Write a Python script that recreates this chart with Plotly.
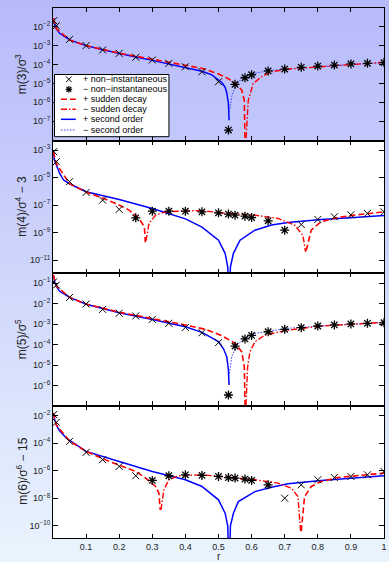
import plotly.graph_objects as go
from plotly.subplots import make_subplots

W, H = 389, 562
ML, MR, MT, MB = 53, 2, 8, 24
PW, PH = W - ML - MR, H - MT - MB


def px(x):
    return (x - ML) / PW


def py(y):
    return (H - MB - y) / PH


# ---------------- data (signed values; sign decides + / - series) ----------------
r_pts = [0.002, 0.01, 0.05, 0.1, 0.15, 0.2, 0.25, 0.3, 0.35, 0.4, 0.45, 0.5,
         0.53, 0.55, 0.58, 0.6, 0.65, 0.7, 0.75, 0.8, 0.85, 0.9, 0.95, 1.0]

ni_m3 = [2.09e-2, 1.12e-2, 2.14e-3, 1.0e-3, 5.89e-4, 3.89e-4, 2.4e-4, 1.74e-4, 1.15e-4,
         7.59e-5, 4.17e-5, 1.23e-5, -3.39e-8, -8.91e-6, -2.0e-5, -2.88e-5, -4.57e-5,
         -5.75e-5, -7.08e-5, -8.32e-5, -9.33e-5, -1.07e-4, -1.15e-4, -1.26e-4]
ni_m4 = [7.59e-4, 1.41e-4, 5.01e-6, 8.32e-7, 2.29e-7, 4.9e-8, -1.2e-8, -3.63e-8, -3.63e-8,
         -3.63e-8, -3.24e-8, -2.75e-8, -2.24e-8, -1.86e-8, -1.58e-8, -1.26e-8, -7.24e-9,
         -1.51e-9, 3.89e-9, 9.12e-9, 1.41e-8, 2.0e-8, 2.51e-8, 3.24e-8]
ni_m5 = [1.15e-1, 7.94e-2, 2.0e-2, 9.55e-3, 5.25e-3, 3.39e-3, 2.51e-3, 1.7e-3, 1.1e-3,
         6.92e-4, 3.8e-4, 1.26e-4, -3.55e-7, -8.51e-5, -1.91e-4, -2.82e-4, -4.27e-4,
         -5.62e-4, -6.76e-4, -8.13e-4, -9.12e-4, -1.02e-3, -1.1e-3, -1.17e-3]
ni_m6 = [1.17e-2, 3.24e-3, 1.35e-4, 2.14e-5, 6.31e-6, 2.04e-6, 4.27e-7, -1.95e-7, -4.27e-7,
         -5.01e-7, -4.47e-7, -3.8e-7, -3.16e-7, -2.88e-7, -2.45e-7, -1.95e-7, -9.33e-8,
         1.0e-8, 9.33e-8, 2.19e-7, 3.16e-7, 3.8e-7, 5.01e-7, 8.71e-7]

so_r3 = [0.001, 0.005, 0.01, 0.02, 0.05, 0.1, 0.15, 0.2, 0.25, 0.3, 0.35, 0.4, 0.45, 0.48,
         0.5, 0.51, 0.52, 0.525, 0.53, 0.532, 0.533, 0.54, 0.55, 0.57, 0.6, 0.65, 0.7,
         0.8, 0.9, 1.0]
so_m3 = [2.82e-2, 1.26e-2, 7.94e-3, 4.47e-3, 2.0e-3, 1.0e-3, 6.03e-4, 3.8e-4, 2.51e-4,
         1.66e-4, 1.07e-4, 6.76e-5, 4.37e-5, 2.82e-5, 1.58e-5, 1.12e-5, 6.31e-6, 3.16e-6,
         8.91e-7, 1.12e-7, -3.16e-7, -2.0e-6, -6.76e-6, -1.86e-5, -3.16e-5, -4.68e-5,
         -5.62e-5, -7.59e-5, -1.0e-4, -1.26e-4]
sd_r3 = [0.001, 0.01, 0.05, 0.1, 0.2, 0.3, 0.35, 0.4, 0.45, 0.5, 0.53, 0.55, 0.57, 0.578,
         0.5805, 0.5815, 0.59, 0.605, 0.63, 0.66, 0.71, 0.81, 0.91, 1.0]
sd_m3 = [2.82e-2, 7.94e-3, 2.0e-3, 1.0e-3, 3.98e-4, 1.91e-4, 1.32e-4, 9.12e-5, 6.31e-5,
         3.16e-5, 1.78e-5, 1.0e-5, 4.47e-6, 1.26e-6, 3.16e-9, -3.16e-9, -1.32e-6, -1.0e-5,
         -2.24e-5, -4.17e-5, -5.75e-5, -7.59e-5, -1.0e-4, -1.32e-4]

so_r4 = [0.001, 0.005, 0.012, 0.02, 0.032, 0.05, 0.1, 0.2, 0.3, 0.35, 0.4, 0.45, 0.5, 0.52,
         0.528, 0.532, 0.536, 0.545, 0.565, 0.61, 0.66, 0.71, 0.81, 0.91, 1.0]
so_m4 = [7.94e-4, 1.58e-4, 6.31e-5, 2.0e-5, 6.61e-6, 3.55e-6, 9.33e-7, 2.57e-7, 5.75e-8,
         2.51e-8, 1.0e-8, 2.51e-9, 2.82e-10, 3.16e-11, 3.16e-12, 1e-14, 3.16e-12, 3.16e-11,
         2.82e-10, 1.51e-9, 3.55e-9, 5.5e-9, 9.12e-9, 1.26e-8, 1.78e-8]
sd_r4 = [0.001, 0.01, 0.05, 0.1, 0.14, 0.19, 0.23, 0.26, 0.276, 0.279, 0.281, 0.29, 0.31,
         0.34, 0.4, 0.45, 0.51, 0.61, 0.68, 0.73, 0.755, 0.763, 0.765, 0.78, 0.81, 0.86,
         0.91, 1.0]
sd_m4 = [7.94e-4, 1.0e-4, 3.55e-6, 8.91e-7, 3.98e-7, 1.32e-7, 4.37e-8, 1.07e-8, 2.63e-9,
         2.0e-10, -2.51e-10, -4.68e-9, -1.86e-8, -3.24e-8, -3.8e-8, -3.89e-8, -2.75e-8,
         -1.86e-8, -1.07e-8, -3.55e-9, -6.31e-10, -3.98e-11, 5.01e-11, 1.51e-9, 6.31e-9,
         1.26e-8, 1.86e-8, 3.24e-8]

so_r5 = [0.001, 0.005, 0.01, 0.02, 0.05, 0.1, 0.2, 0.3, 0.4, 0.45, 0.5, 0.515, 0.525, 0.53,
         0.532, 0.533, 0.54, 0.555, 0.58, 0.61, 0.66, 0.71, 0.81, 0.91, 1.0]
so_m5 = [2.51e-1, 1.12e-1, 7.08e-2, 3.98e-2, 2.0e-2, 9.33e-3, 3.55e-3, 1.7e-3, 7.41e-4,
         3.98e-4, 1.41e-4, 6.31e-5, 2.57e-5, 5.89e-6, 1.1e-6, -3.98e-6, -2.57e-5, -9.55e-5,
         -2.04e-4, -3.55e-4, -4.79e-4, -6.31e-4, -8.13e-4, -1.0e-3, -1.2e-3]
sd_r5 = [0.001, 0.01, 0.05, 0.1, 0.2, 0.3, 0.4, 0.46, 0.51, 0.55, 0.57, 0.578, 0.5808,
         0.5815, 0.588, 0.595, 0.61, 0.64, 0.71, 0.81, 0.91, 1.0]
sd_m5 = [2.51e-1, 7.08e-2, 2.0e-2, 9.55e-3, 3.8e-3, 1.91e-3, 9.12e-4, 5.62e-4, 2.75e-4,
         1.17e-4, 4.57e-5, 8.51e-6, 3.16e-8, -3.16e-8, -8.51e-6, -4.57e-5, -1.38e-4,
         -2.95e-4, -5.13e-4, -8.13e-4, -1.02e-3, -1.23e-3]

so_r6 = [0.001, 0.005, 0.012, 0.02, 0.04, 0.1, 0.2, 0.3, 0.4, 0.45, 0.5, 0.52, 0.528,
         0.532, 0.536, 0.545, 0.56, 0.61, 0.66, 0.71, 0.81, 0.91, 1.0]
so_m6 = [1.58e-2, 5.01e-3, 1.66e-3, 7.94e-4, 2.34e-4, 2.51e-5, 4.68e-6, 8.71e-7, 2.19e-7,
         7.08e-8, 7.59e-9, 8.13e-10, 1e-10, 1e-14, 1e-10, 8.13e-10, 5.62e-9, 3.02e-8,
         6.31e-8, 1.1e-7, 1.95e-7, 2.88e-7, 4.27e-7]
sd_r6 = [0.001, 0.01, 0.05, 0.1, 0.17, 0.21, 0.25, 0.28, 0.31, 0.32, 0.324, 0.326, 0.335,
         0.35, 0.38, 0.45, 0.51, 0.61, 0.68, 0.72, 0.74, 0.748, 0.75, 0.76, 0.78, 0.81,
         0.86, 0.91, 1.0]
sd_m6 = [1.58e-2, 2.0e-3, 1.41e-4, 2.51e-5, 4.68e-6, 2.04e-6, 8.71e-7, 2.88e-7, 7.08e-8,
         2.29e-8, 1.41e-9, -1.41e-9, -4.07e-8, -2.19e-7, -4.27e-7, -5.01e-7, -3.8e-7,
         -2.19e-7, -1.23e-7, -5.37e-8, -1.32e-8, -3.98e-11, 3.98e-11, 1.32e-8, 7.08e-8,
         1.62e-7, 3.16e-7, 4.27e-7, 6.61e-7]

x_ticks = [0.1, 0.2, 0.3, 0.4, 0.5, 0.6, 0.7, 0.8, 0.9, 1.0]
x_ticktext = ["0.1", "0.2", "0.3", "0.4", "0.5", "0.6", "0.7", "0.8", "0.9", "1"]

y_titles = ["m(3)/σ<sup>3</sup>", "m(4)/σ<sup>4</sup> − 3",
            "m(5)/σ<sup>5</sup>", "m(6)/σ<sup>6</sup> − 15"]
y_exps = [[-2, -3, -4, -5, -6, -7], [-3, -5, -7, -9, -11],
          [-1, -2, -3, -4, -5, -6], [-2, -4, -6, -8, -10]]
y_ranges = [[-8.02, -1.01], [-11.93, -2.31], [-6.96, -0.51], [-10.89, -1.27]]

legend_names = ["+ non−instantaneous", "− non−instantaneous", "+ sudden decay",
                "− sudden decay", "+ second order", "− second order"]

panels = [
    (ni_m3, sd_r3, sd_m3, so_r3, so_m3),
    (ni_m4, sd_r4, sd_m4, so_r4, so_m4),
    (ni_m5, sd_r5, sd_m5, so_r5, so_m5),
    (ni_m6, sd_r6, sd_m6, so_r6, so_m6),
]

RED = "#ff0000"
BLUE = "#0000ff"
DASH = "6px,3px"
DASHDOT = "6px,2px,1.5px,2px"
DOT = "1.5px,1.5px"
FONT = "Liberation Sans, Arial, Helvetica, sans-serif"
SPINE = 1.1


def part(vals, positive):
    return [abs(v) if (v > 0) == positive else None for v in vals]


fig = make_subplots(rows=4, cols=1, shared_xaxes=True, vertical_spacing=0)

for i, (ni, sdr, sdv, sor, sov) in enumerate(panels):
    row = i + 1
    fig.add_trace(go.Scatter(x=sor, y=part(sov, True), mode="lines",
                             line=dict(color=BLUE, width=1.5), showlegend=False), row=row, col=1)
    fig.add_trace(go.Scatter(x=sor, y=part(sov, False), mode="lines",
                             line=dict(color="#3a3aff", width=1, dash=DOT), showlegend=False),
                  row=row, col=1)
    fig.add_trace(go.Scatter(x=sdr, y=part(sdv, True), mode="lines",
                             line=dict(color=RED, width=1.6, dash=DASH), showlegend=False),
                  row=row, col=1)
    fig.add_trace(go.Scatter(x=sdr, y=part(sdv, False), mode="lines",
                             line=dict(color=RED, width=1.4, dash=DASHDOT), showlegend=False),
                  row=row, col=1)
    fig.add_trace(go.Scatter(x=r_pts, y=part(ni, True), mode="markers",
                             marker=dict(symbol="x-thin", size=7, color="black",
                                         line=dict(width=1, color="black")),
                             showlegend=False), row=row, col=1)
    fig.add_trace(go.Scatter(x=r_pts, y=part(ni, False), mode="markers",
                             marker=dict(symbol="asterisk", size=7.5, color="black",
                                         line=dict(width=1.3, color="black")),
                             showlegend=False), row=row, col=1)

    fig.update_yaxes(type="log", range=y_ranges[i],
                     tickvals=[10.0 ** e for e in y_exps[i]],
                     ticktext=["10<sup>−%d</sup>" % (-e) for e in y_exps[i]],
                     ticks="inside", ticklen=5, tickwidth=1, tickcolor="black",
                     showline=True, linecolor="black", linewidth=SPINE, mirror="ticks",
                     showgrid=False, zeroline=False,
                     tickfont=dict(size=9, color="#222222", family=FONT),
                     row=row, col=1)
    fig.update_xaxes(range=[0, 1], tickvals=x_ticks, ticktext=x_ticktext,
                     ticks="inside", ticklen=4, tickwidth=1, tickcolor="black",
                     showline=True, linecolor="black", linewidth=SPINE, mirror="ticks",
                     showgrid=False, zeroline=False, ticklabeloverflow="allow",
                     showticklabels=(row == 4),
                     tickfont=dict(size=9, color="#222222", family=FONT),
                     row=row, col=1)

# ---------------- background gradient + white panel areas ----------------
shapes = []
N = 80
top = (182, 186, 250)
bot = (233, 244, 253)
y_top = 1 + MT / PH
y_bot = -MB / PH
for k in range(N):
    t = k / (N - 1)
    c = tuple(round(top[j] + (bot[j] - top[j]) * t) for j in range(3))
    y1 = y_top - (y_top - y_bot) * k / N + 0.002
    y0 = y_top - (y_top - y_bot) * (k + 1) / N - 0.002
    shapes.append(dict(type="rect", xref="paper", yref="paper",
                       x0=-ML / PW - 0.01, x1=1 + MR / PW + 0.01, y0=y0, y1=y1,
                       fillcolor="rgb(%d,%d,%d)" % c, line=dict(width=0), layer="below"))
for d in [(0.5, 0.75), (0.25, 0.5), (0.0, 0.25)]:
    shapes.append(dict(type="rect", xref="paper", yref="paper", x0=0, x1=1,
                       y0=d[0], y1=d[1], fillcolor="white", line=dict(width=0),
                       layer="below"))

# ---------------- manual legend (panel 1) ----------------
shapes.append(dict(type="rect", xref="paper", yref="paper", x0=px(54.5), x1=px(170),
                   y0=py(136.7), y1=py(74.5), fillcolor="white",
                   line=dict(color="black", width=1), layer="above"))
ly = [79.3, 89.3, 99.3, 109.3, 119.3, 130.0]
mx = 69
s = 2.8
for (a, b, c, d) in [(-s, -s, s, s), (-s, s, s, -s)]:
    shapes.append(dict(type="line", xref="paper", yref="paper",
                       x0=px(mx + a), y0=py(ly[0] + b), x1=px(mx + c), y1=py(ly[0] + d),
                       line=dict(color="black", width=1), layer="above"))
s = 3.3
s2 = 2.4
for (a, b, c, d) in [(-s, 0, s, 0), (0, -s, 0, s), (-s2, -s2, s2, s2), (-s2, s2, s2, -s2)]:
    shapes.append(dict(type="line", xref="paper", yref="paper",
                       x0=px(mx + a), y0=py(ly[1] + b), x1=px(mx + c), y1=py(ly[1] + d),
                       line=dict(color="black", width=1.3), layer="above"))
for yy, col, w, dsh in [(ly[2], RED, 1.6, DASH), (ly[3], RED, 1.4, DASHDOT),
                        (ly[4], BLUE, 1.5, "solid"), (ly[5], "#3a3aff", 1, DOT)]:
    shapes.append(dict(type="line", xref="paper", yref="paper",
                       x0=px(61), x1=px(76), y0=py(yy), y1=py(yy),
                       line=dict(color=col, width=w, dash=dsh), layer="above"))

annotations = []
for name, yy in zip(legend_names, ly):
    annotations.append(dict(text=name, xref="paper", yref="paper", x=px(81.5), y=py(yy),
                            xanchor="left", yanchor="middle", showarrow=False,
                            font=dict(size=9, color="black", family=FONT)))

panel_centers = [74, 206.5, 339, 471.5]
for t, yc in zip(y_titles, panel_centers):
    annotations.append(dict(text=t, xref="paper", yref="paper", x=px(21), y=py(yc),
                            xanchor="center", yanchor="middle", textangle=-90,
                            showarrow=False, font=dict(size=12, color="#222222", family=FONT)))
annotations.append(dict(text="r", xref="paper", yref="paper", x=0.5, y=py(556.5),
                        xanchor="center", yanchor="middle", showarrow=False,
                        font=dict(size=10, color="#222222", family=FONT)))

fig.update_layout(width=W, height=H, margin=dict(l=ML, r=MR, t=MT, b=MB),
                  paper_bgcolor="rgb(210,218,251)", plot_bgcolor="rgba(0,0,0,0)",
                  showlegend=False, shapes=shapes, annotations=annotations,
                  font=dict(family=FONT))

fig.write_html("out.html", config={"displayModeBar": False},
               post_script="document.body.style.margin='0';"
                           "document.body.style.overflow='hidden';")
